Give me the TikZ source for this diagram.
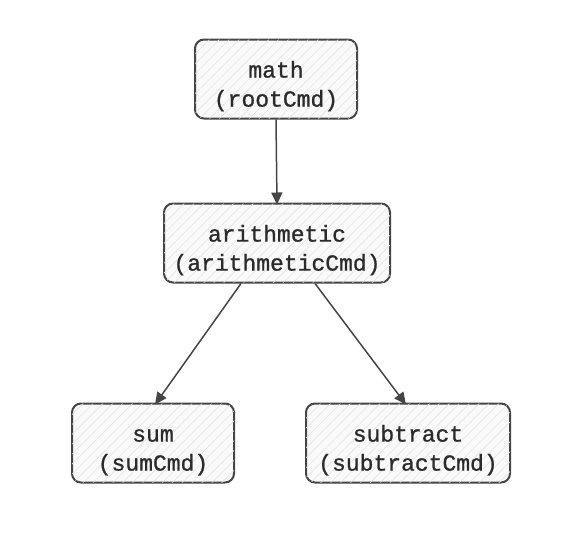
\documentclass[tikz,border=0pt]{standalone}
\usepackage{fontspec}
\setmonofont[FakeBold=1]{Liberation Mono}
\usetikzlibrary{arrows.meta,positioning,patterns.meta}
\definecolor{inkgray}{HTML}{454545}
\definecolor{textgray}{HTML}{2b2b2b}
\tikzset{
	cmdbox/.style={draw=inkgray,line width=2pt,rounded corners=9pt,
		fill=gray!4,
		postaction={pattern={Lines[angle=45,distance=7pt,line width=0.6pt]},pattern color=gray!22},
		minimum height=79pt,text height=60pt,align=center,text=textgray,
		font=\ttfamily\fontsize{23}{29}\selectfont},
	cmdarrow/.style={draw=inkgray,line width=1.5pt,-{Triangle[length=12pt,width=11pt]}}
}
\begin{document}
\begin{tikzpicture}[x=1pt,y=-1pt]
				%\draw[color=gray,step=10pt, help lines,opacity=0.3] (0,0) grid (578,546); %help grids
				\useasboundingbox (0,0) rectangle (578,546);
				\node[cmdbox,minimum width=162pt] (math) at (276,79) {math\\(rootCmd)};
				\node[cmdbox,minimum width=226pt] (arith) at (277,243) {arithmetic\\(arithmeticCmd)};
				\node[cmdbox,minimum width=162pt] (sum) at (153,443) {sum\\(sumCmd)};
				\node[cmdbox,minimum width=204pt] (subtract) at (408,443) {subtract\\(subtractCmd)};
				\draw[cmdarrow] (math.south) -- ([yshift=-2pt]arith.north);
				\draw[cmdarrow] ([xshift=-36pt]arith.south) -- ([xshift=2pt,yshift=-2pt]sum.north);
				\draw[cmdarrow] ([xshift=38pt]arith.south) -- ([xshift=-2pt,yshift=-2pt]subtract.north);
\end{tikzpicture}
\end{document}
